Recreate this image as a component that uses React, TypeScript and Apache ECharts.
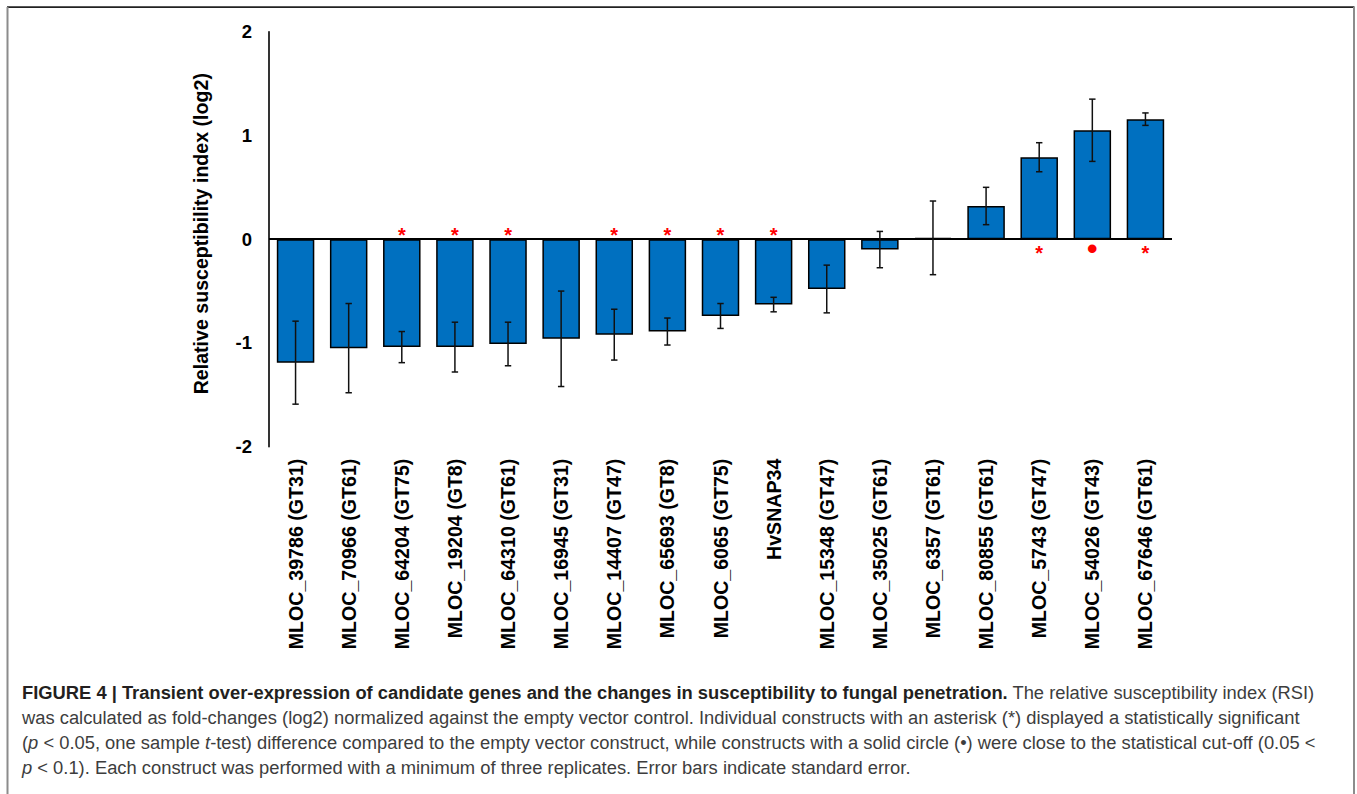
import React, { useEffect, useRef } from "react";
import * as echarts from "echarts";

const categories = [
  "MLOC_39786 (GT31)",
  "MLOC_70966 (GT61)",
  "MLOC_64204 (GT75)",
  "MLOC_19204 (GT8)",
  "MLOC_64310 (GT61)",
  "MLOC_16945 (GT31)",
  "MLOC_14407 (GT47)",
  "MLOC_65693 (GT8)",
  "MLOC_6065 (GT75)",
  "HvSNAP34",
  "MLOC_15348 (GT47)",
  "MLOC_35025 (GT61)",
  "MLOC_6357 (GT61)",
  "MLOC_80855 (GT61)",
  "MLOC_5743 (GT47)",
  "MLOC_54026 (GT43)",
  "MLOC_67646 (GT61)",
];

const rsiValues = [
  -1.19, -1.05, -1.04, -1.04, -1.01, -0.96, -0.92, -0.89, -0.74, -0.63, -0.48,
  -0.1, 0.013, 0.32, 0.79, 1.05, 1.157,
];

const stdErrors = [
  0.4, 0.43, 0.15, 0.24, 0.21, 0.46, 0.245, 0.13, 0.12, 0.07, 0.23, 0.175,
  0.355, 0.18, 0.14, 0.3, 0.06,
];

const significance = [
  "", "", "*", "*", "*", "", "*", "*", "*", "*", "", "", "", "", "*", "•", "*",
];

const yTicks = [-2, -1, 0, 1, 2];

const yAxisTitle = "Relative susceptibility index (log2)";

const captionLines = [
  "{b|FIGURE 4 | Transient over-expression of candidate genes and the changes in susceptibility to fungal penetration.} The relative susceptibility index (RSI)",
  "was calculated as fold-changes (log2) normalized against the empty vector control. Individual constructs with an asterisk (*) displayed a statistically significant",
  "({i|p} < 0.05, one sample {i|t}-test) difference compared to the empty vector construct, while constructs with a solid circle (•) were close to the statistical cut-off (0.05 <",
  "{i|p} < 0.1). Each construct was performed with a minimum of three replicates. Error bars indicate standard error.",
];

const W = 1357;
const H = 794;

export default function App() {
  const ref = useRef<HTMLDivElement>(null);

  useEffect(() => {
    if (!ref.current) return;
    const chart = echarts.init(ref.current, null, { renderer: "svg" });

    const errorData = rsiValues.map((v, i) => [i, v, stdErrors[i]]);
    const markerData = significance.map((s, i) => [i, rsiValues[i], s]);

    const captionFont = "'Liberation Sans', Arial, Helvetica, sans-serif";
    const captionSize = 18.35;
    const captionGraphics = captionLines.map((line, k) => ({
      type: "text",
      left: 22,
      top: 683 + k * 25.2,
      silent: true,
      style: {
        text: line,
        fontFamily: captionFont,
        fontSize: captionSize,
        fill: "#3d3d3d",
        rich: {
          b: {
            fontFamily: captionFont,
            fontSize: captionSize,
            fontWeight: "bold",
            fill: "#231f20",
            color: "#231f20",
          },
          i: {
            fontFamily: captionFont,
            fontSize: captionSize,
            fontStyle: "italic",
            fill: "#3d3d3d",
            color: "#3d3d3d",
          },
        },
      },
    }));

    const option: any = {
      animation: false,
      backgroundColor: "#ffffff",
      grid: {
        left: 269,
        top: 31.7,
        width: 903,
        height: 415,
        containLabel: false,
      },
      xAxis: {
        type: "category",
        data: categories,
        position: "bottom",
        axisLine: { show: false, onZero: false },
        axisTick: { show: false },
        axisLabel: {
          interval: 0,
          rotate: 90,
          margin: 12,
          fontFamily: "'Liberation Sans', Arial, sans-serif",
          fontWeight: "bold",
          fontSize: 19.6,
          color: "#000",
        },
        splitLine: { show: false },
      },
      yAxis: {
        type: "value",
        min: yTicks[0],
        max: yTicks[yTicks.length - 1],
        interval: 1,
        axisLine: { show: true, onZero: false, lineStyle: { color: "#000", width: 1.6 } },
        axisTick: { show: false },
        splitLine: { show: false },
        axisLabel: {
          margin: 17,
          fontFamily: "'Liberation Sans', Arial, sans-serif",
          fontWeight: "bold",
          fontSize: 18.5,
          color: "#000",
        },
        name: yAxisTitle,
        nameLocation: "middle",
        nameGap: 58,
        nameTextStyle: {
          fontFamily: "'Liberation Sans', Arial, sans-serif",
          fontWeight: "bold",
          fontSize: 19.6,
          color: "#000",
          padding: [0, 0, 0, 11],
        },
      },
      series: [
        {
          type: "bar",
          data: rsiValues,
          barWidth: 37.5,
          itemStyle: {
            color: "#0070C0",
            borderColor: "#000",
            borderWidth: 1.5,
          },
          z: 2,
          markLine: {
            silent: true,
            symbol: "none",
            label: { show: false },
            lineStyle: { color: "#000", width: 2, type: "solid" },
            data: [{ yAxis: 0 }],
            z: 5,
          },
        },
        {
          type: "custom",
          data: errorData,
          z: 6,
          renderItem: (params: any, api: any) => {
            const i = api.value(0);
            const v = api.value(1);
            const e = api.value(2);
            const top = api.coord([i, v + e]);
            const bot = api.coord([i, v - e]);
            const cap = 3.2;
            const style = { stroke: "#111", lineWidth: 1.5 };
            return {
              type: "group",
              children: [
                { type: "line", shape: { x1: top[0], y1: top[1], x2: bot[0], y2: bot[1] }, style },
                { type: "line", shape: { x1: top[0] - cap, y1: top[1], x2: top[0] + cap, y2: top[1] }, style },
                { type: "line", shape: { x1: bot[0] - cap, y1: bot[1], x2: bot[0] + cap, y2: bot[1] }, style },
              ],
            };
          },
        },
        {
          type: "custom",
          data: markerData,
          z: 7,
          renderItem: (params: any, api: any) => {
            const i = api.value(0);
            const v = api.value(1);
            const s = significance[params.dataIndex];
            if (!s) return null;
            const p = api.coord([i, 0]);
            const isDot = s === "•";
            const cy = v < 0 ? p[1] - 9 : p[1] + 9.5;
            return {
              type: "text",
              style: {
                text: s,
                x: p[0],
                y: isDot ? cy : cy + 4.5,
                textAlign: "center",
                textVerticalAlign: "middle",
                fontFamily: "'Liberation Sans', Arial, sans-serif",
                fontWeight: "bold",
                fontSize: isDot ? 30 : 20,
                fill: "#ff0000",
              },
            };
          },
        },
      ],
      graphic: [
        {
          type: "line",
          silent: true,
          shape: { x1: 7, y1: 7.2, x2: 1354.5, y2: 7.2 },
          style: { stroke: "#222", lineWidth: 1.8 },
        },
        {
          type: "line",
          silent: true,
          shape: { x1: 7.5, y1: 7, x2: 7.5, y2: H },
          style: { stroke: "#8c8c8c", lineWidth: 2 },
        },
        {
          type: "line",
          silent: true,
          shape: { x1: 1354, y1: 7, x2: 1354, y2: H },
          style: { stroke: "#8c8c8c", lineWidth: 2 },
        },
        ...captionGraphics,
      ],
    };

    chart.setOption(option);
    return () => chart.dispose();
  }, []);

  return (
    <div
      ref={ref}
      style={{ position: "fixed", left: 0, top: 0, width: W, height: H, background: "#fff" }}
    />
  );
}
